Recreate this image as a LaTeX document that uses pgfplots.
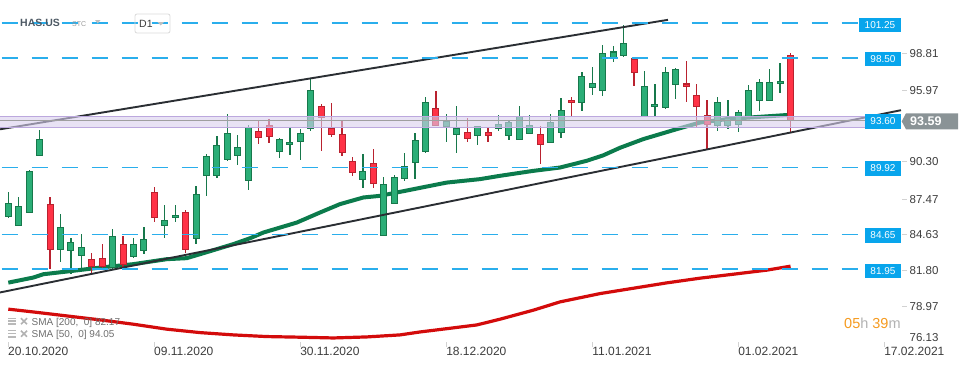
\documentclass[border=0pt]{standalone}
\usepackage{pgfplots}
\pgfplotsset{compat=1.18}
\usepackage{pgfplotstable}
\usepackage{fontspec}
\setmainfont{Liberation Sans}
\definecolor{gfill}{HTML}{2BAE77}
\definecolor{gline}{HTML}{17784B}
\definecolor{rfill}{HTML}{FF3246}
\definecolor{rline}{HTML}{B9222F}
\definecolor{lvl}{HTML}{2AAEEC}
\definecolor{lvlbox}{HTML}{08A5EC}
\definecolor{smaA}{HTML}{0B7B4C}
\definecolor{smaB}{HTML}{D30B0B}
\definecolor{chan}{HTML}{2A2E33}
\definecolor{band}{HTML}{D8CEED}
\definecolor{bandedge}{HTML}{BCA8DE}
\definecolor{tagc}{HTML}{8A9396}
\definecolor{axtxt}{HTML}{3C3C3C}
\definecolor{legtxt}{HTML}{6E6E6E}
\definecolor{cdorange}{HTML}{F59A1F}
\definecolor{hdr}{HTML}{4D5964}
\newcommand{\fs}[1]{\fontsize{#1pt}{#1pt}\selectfont}

\pgfplotstableread{
i O H L C
1 86.10 88.00 85.96 87.12
2 85.39 87.61 85.30 86.88
3 86.41 89.73 86.35 89.57
4 90.88 92.87 90.80 92.14
6 83.51 86.28 82.53 85.23
7 83.43 84.39 81.57 84.05
8 83.03 84.68 82.06 83.66
11 82.06 85.08 81.96 84.53
13 82.96 84.37 82.80 83.90
14 83.43 85.23 83.11 84.29
16 85.39 86.96 84.37 85.78
17 86.02 86.96 85.62 86.17
19 84.37 88.45 83.94 87.82
20 89.31 90.99 87.71 90.80
21 89.31 92.40 89.12 91.67
22 90.57 94.10 90.44 92.61
23 90.88 92.48 90.10 91.51
24 88.92 93.26 88.18 93.05
27 91.20 92.26 90.62 92.14
28 91.75 93.05 90.93 91.90
29 91.98 92.95 90.54 92.61
30 93.00 96.85 92.74 95.98
35 89.00 90.96 88.34 89.63
37 84.60 89.16 84.55 88.61
38 87.12 89.34 87.06 89.16
39 89.08 91.04 88.87 90.02
40 90.33 92.61 89.00 92.06
41 91.20 95.44 91.06 95.04
43 93.16 94.10 91.95 93.55
44 92.53 94.73 91.09 93.00
46 92.45 93.20 91.67 93.16
48 93.00 94.05 92.74 93.32
49 92.45 93.55 92.06 93.42
50 92.14 94.73 92.08 93.94
51 92.61 94.05 92.55 93.24
53 91.90 94.10 91.83 93.42
54 92.69 95.36 92.26 94.41
56 95.04 97.42 94.38 97.08
57 96.22 97.81 95.59 96.53
58 95.98 99.54 95.56 98.89
59 98.58 99.44 98.18 98.97
60 98.73 101.09 98.58 99.67
62 93.94 97.48 93.89 96.30
63 94.73 96.46 93.94 94.89
64 94.65 97.79 94.52 97.40
65 96.46 97.73 95.25 97.63
69 93.24 95.44 92.74 95.04
70 93.24 95.20 92.92 93.79
71 93.32 94.44 92.69 94.26
72 93.81 96.38 93.73 95.98
73 95.20 96.85 94.34 96.61
74 95.20 97.63 95.11 96.61
75 96.53 98.10 95.75 96.69
}\greentab

\pgfplotstableread{
i O H L C
5 87.04 87.61 81.98 83.51
9 82.72 83.19 81.46 82.17
10 82.80 83.90 81.96 82.17
12 83.90 84.53 82.06 82.33
15 87.98 88.37 85.62 86.02
18 86.41 86.59 83.24 83.51
25 92.71 93.58 91.75 92.26
26 93.24 93.71 91.87 92.34
31 94.73 94.91 91.24 93.87
32 93.00 94.96 92.34 92.53
33 92.53 93.55 90.85 91.12
34 90.41 90.73 89.28 89.55
36 90.26 91.35 88.34 88.69
42 94.57 95.91 93.16 93.24
45 92.69 93.79 91.95 92.22
47 92.69 93.00 91.95 92.45
52 92.53 93.13 90.22 91.75
55 95.20 95.46 93.99 95.04
61 98.42 98.52 96.27 97.40
66 96.46 98.26 95.09 96.30
67 95.59 96.46 93.00 94.73
68 94.02 95.20 91.28 93.26
76 98.73 98.89 92.61 93.59
}\redtab

\pgfplotstableread{
i v
1 80.88
3.40 81.28
4.36 81.54
6.60 81.75
9.79 82.06
12.98 82.33
16.19 82.72
18.10 82.80
19.38 83.11
22.57 83.90
24.20 84.37
25.45 84.81
28.65 85.59
30.88 86.38
32.80 87.04
35.04 87.56
36.64 87.69
39.83 88.21
43.03 88.73
46.22 89.00
48.14 89.26
51.34 89.65
53.90 89.91
56.46 90.44
58.05 90.87
59.65 91.46
61.88 92.14
65.08 92.92
67.32 93.44
69.88 93.71
73.07 93.89
76.00 94.05
}\smafifty

\pgfplotstableread{
i v
1 78.80
3.40 78.58
6.60 78.27
9.79 77.96
12.98 77.62
16.19 77.23
19.38 76.96
22.57 76.78
25.77 76.65
28.97 76.60
32.16 76.54
35.36 76.62
38.56 76.78
40.47 77.01
43.35 77.30
45.91 77.56
48.14 78.01
51.34 78.72
53.90 79.37
57.73 80.02
60.92 80.44
64.12 80.86
67.32 81.23
70.51 81.54
73.71 81.86
76.00 82.17
}\smatwohundred

\pgfplotsset{
  candle/.style 2 args={draw=none, mark=none, forget plot,
    error bars/.cd, y dir=both, y explicit, error mark=none,
    error bar style={line width=#1, draw=#2, solid}},
}
\tikzset{lvlline/.style={lvl, line width=1.6pt, dash pattern=on 16pt off 14pt, dash phase=28.3pt}}

\begin{document}
\begin{tikzpicture}
\begin{axis}[at={(0pt,0pt)}, anchor=south west, scale only axis,
  width=970pt, height=368pt,
  xmin=0.2042, xmax=93.206, ymin=74.183, ymax=103.054,
  hide axis, clip=false]

% moving averages
\addplot[smaB, line width=3.2pt, line join=round, forget plot] table[x=i,y=v]{\smatwohundred};
\addplot[smaA, line width=4pt, line join=round, forget plot] table[x=i,y=v]{\smafifty};

% wicks
\addplot[candle={1.3pt}{gline}] table[x=i, y expr={(\thisrow{H}+\thisrow{L})/2}, y error expr={(\thisrow{H}-\thisrow{L})/2}]{\greentab};
\addplot[candle={1.3pt}{rline}] table[x=i, y expr={(\thisrow{H}+\thisrow{L})/2}, y error expr={(\thisrow{H}-\thisrow{L})/2}]{\redtab};
% bodies
\addplot[candle={7pt}{gline}] table[x=i, y expr={(\thisrow{O}+\thisrow{C})/2}, y error expr={abs(\thisrow{C}-\thisrow{O})/2+0.045}]{\greentab};
\addplot[candle={5pt}{gfill}] table[x=i, y expr={(\thisrow{O}+\thisrow{C})/2}, y error expr={max(abs(\thisrow{C}-\thisrow{O})/2-0.035,0.01)}]{\greentab};
\addplot[candle={7pt}{rline}] table[x=i, y expr={(\thisrow{O}+\thisrow{C})/2}, y error expr={abs(\thisrow{C}-\thisrow{O})/2+0.045}]{\redtab};
\addplot[candle={5pt}{rfill}] table[x=i, y expr={(\thisrow{O}+\thisrow{C})/2}, y error expr={max(abs(\thisrow{C}-\thisrow{O})/2-0.035,0.01)}]{\redtab};

% channel lines
\draw[chan, line width=1.9pt] (axis cs:0.2042,92.91) -- (axis cs:64.25,101.50);
\draw[chan, line width=1.9pt] (axis cs:0.2042,80.11) -- (axis cs:86.59,94.41);

% horizontal levels
\draw[lvlline] (axis cs:0.2042,101.25) -- (axis cs:82.47,101.25);
\draw[lvlline] (axis cs:0.2042,98.50) -- (axis cs:82.47,98.50);
\draw[lvlline] (axis cs:0.2042,93.60) -- (axis cs:82.47,93.60);
\draw[lvlline] (axis cs:0.2042,89.92) -- (axis cs:82.47,89.92);
\draw[lvlline] (axis cs:0.2042,84.65) -- (axis cs:82.47,84.65);
\draw[lvlline] (axis cs:0.2042,81.95) -- (axis cs:82.47,81.95);

% zone band
\fill[band, fill opacity=0.6] (axis cs:0.2042,93.05) rectangle (axis cs:83.14,93.92);
\draw[bandedge, line width=1pt] (axis cs:0.2042,93.05) -- (axis cs:83.14,93.05);
\draw[bandedge, line width=1pt] (axis cs:0.2042,93.92) -- (axis cs:83.14,93.92);
% current price line
\draw[gray!75, line width=0.8pt] (axis cs:0.2042,93.59) -- (axis cs:86.6,93.59);
\end{axis}

% ---- decorations in pixel coordinates ----
\begin{scope}[x=1pt, y=-1pt, yshift=368pt]
% header
\node[anchor=base west, inner sep=0pt, text=hdr] at (20,26.3) {\fs{10.5}\bfseries HAS.US};
\node[anchor=base west, inner sep=0pt, text=gray!80] at (72,26.5) {\fs{7}STC};
\fill[gray!50] (95,20) -- (100.5,20) -- (97.75,23.5) -- cycle;
\draw[gray!30, rounded corners=2pt, line width=0.8pt] (135,14) rectangle (170,33);
\node[anchor=base west, inner sep=0pt, text=axtxt] at (139,27.3) {\fs{10.5}D1};
\fill[gray!50] (157.5,22) -- (164,22) -- (160.75,25.5) -- cycle;

% level boxes
\fill[lvlbox] (859,17.7) rectangle (901,31.7);
\node[text=white, inner sep=0pt] at (880,24.7) {\fs{10}101.25};
\foreach \yy/\tt in {59.2/98.50, 121.3/93.60, 168.3/89.92, 235.5/84.65, 270.8/81.95}{
  \fill[lvlbox] (865,\yy-7.2) rectangle (901,\yy+7.2);
  \node[text=white, inner sep=0pt] at (883,\yy) {\fs{10}\tt};
}

% price tag
\fill[tagc] (901.7,121.3) -- (906,113.3) -- (958,113.3) -- (958,129.3) -- (906,129.3) -- cycle;
\node[anchor=west, text=white, inner sep=0pt] at (910,121.3) {\fs{12.5}\bfseries 93.59};

% right axis labels
\foreach \yy/\tt in {53.3/98.81, 90/95.97, 161.7/90.30, 199/87.47, 234.3/84.63, 270/81.80, 306/78.97}{
  \draw[gray!35, line width=0.8pt] (902,\yy) -- (907,\yy);
  \node[anchor=base west, inner sep=0pt, text=axtxt] at (909.5,\yy+4.1) {\fs{11.5}\tt};
}
\node[anchor=base west, inner sep=0pt, text=axtxt] at (909.5,341.4) {\fs{11.5}76.13};

% countdown
\node[anchor=base west, inner sep=0pt] at (844,328.2) {\fs{14.5}\textcolor{cdorange}{05}\textcolor{gray!60}{h} \textcolor{cdorange}{39}\textcolor{gray!60}{m}};

% date axis
\foreach \xx/\tt in {8.3/20.10.2020, 154.3/09.11.2020, 300.4/30.11.2020, 446.4/18.12.2020, 592.4/11.01.2021, 738.4/01.02.2021, 884.4/17.02.2021}{
  \draw[gray!35, line width=0.8pt] (\xx,342) -- (\xx,347);
  \node[anchor=base west, inner sep=0pt, text=axtxt] at (\xx-0.3,355.3) {\fs{12}\tt};
}

% legend
\foreach \yy/\tt in {321.5/{SMA [200,\ \ 0] 82.17}, 334/{SMA [50,\ \ 0] 94.05}}{
  \fill[gray!55] (7.5,\yy-4) rectangle (15.5,\yy-2.8);
  \fill[gray!55] (7.5,\yy-1.2) rectangle (15.5,\yy);
  \fill[gray!55] (7.5,\yy+1.6) rectangle (15.5,\yy+3.6);
  \draw[gray!60, line width=1.7pt] (21,\yy-3.3) -- (27,\yy+2.7) (21,\yy+2.7) -- (27,\yy-3.3);
  \node[anchor=base west, inner sep=0pt, text=legtxt] at (31.5,\yy+3.6) {\fs{10}\tt};
}
\end{scope}

\pgfresetboundingbox
\useasboundingbox (0,0) rectangle (970pt,368pt);
\end{tikzpicture}
\end{document}
